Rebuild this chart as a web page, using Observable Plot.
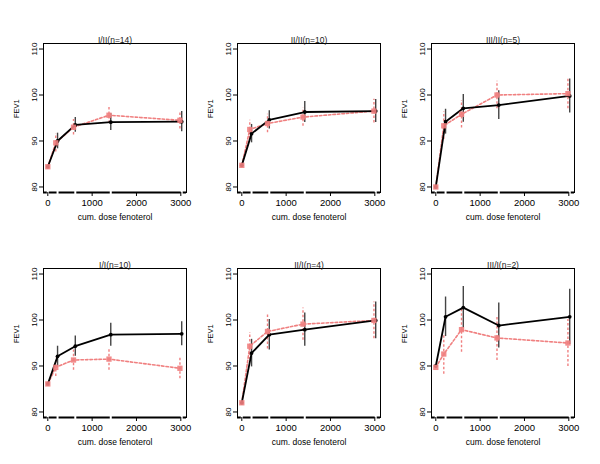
<!DOCTYPE html>
<html><head><meta charset="utf-8">
<script src="https://cdn.jsdelivr.net/npm/d3@7"></script>
<script src="https://cdn.jsdelivr.net/npm/@observablehq/plot@0.6"></script>
<style>
body{margin:0;background:#fff;}
#wrap{position:relative;width:600px;height:464px;background:#fff;font-family:"Liberation Sans",Arial,sans-serif;}
#wrap svg{position:absolute;overflow:visible;}
</style></head>
<body><div id="wrap"></div>
<script>
const titles = ["I/II(n=14)", "II/II(n=10)", "III/II(n=5)", "I/I(n=10)", "II/I(n=4)", "III/I(n=2)"];
const doses = [0, 200, 600, 1400, 3000];
const xTicks = [0, 1000, 2000, 3000];
const yTicks = [80, 90, 100, 110];
// black (solid) series means and error half-widths
const blackMean = [
  [84.4, 90.0, 93.5, 94.1, 94.2],
  [84.7, 91.6, 94.6, 96.3, 96.5],
  [80.0, 94.2, 97.1, 97.8, 99.8],
  [86.1, 92.1, 94.3, 96.8, 97.0],
  [82.0, 92.8, 96.8, 97.9, 99.9],
  [90.0, 100.7, 102.7, 98.8, 100.7]
];
const blackErr = [
  [0, 1.7, 1.6, 1.8, 2.2],
  [0, 2.0, 2.0, 2.3, 2.5],
  [0, 2.7, 3.0, 3.1, 3.7],
  [0, 2.2, 2.2, 2.5, 2.6],
  [0, 3.0, 3.3, 3.6, 4.0],
  [0, 4.3, 4.6, 4.9, 6.0]
];
// red (dashed) series means and error half-widths
const redMean = [
  [84.4, 89.6, 93.0, 95.6, 94.5],
  [84.7, 92.5, 93.8, 95.2, 96.5],
  [80.0, 93.3, 95.8, 100.0, 100.3],
  [86.1, 89.7, 91.3, 91.5, 89.5],
  [82.0, 94.3, 97.5, 99.1, 99.9],
  [89.7, 92.6, 97.9, 96.1, 95.0]
];
const redErr = [
  [0, 2.0, 1.7, 1.8, 1.9],
  [0, 2.0, 2.0, 2.0, 2.6],
  [0, 3.0, 3.0, 3.0, 3.3],
  [0, 2.0, 2.2, 2.4, 2.3],
  [0, 3.0, 3.8, 3.5, 4.0],
  [0, 4.4, 4.9, 4.9, 5.1]
];

const black = "#000", grey = "#444", red = "#f08080";
const shift = 20; // small horizontal dodge between the two series (not at baseline)
const wrap = document.getElementById("wrap");

titles.forEach((t, p) => {
  const col = p % 3, row = Math.floor(p / 3);
  const B = doses.map((d, i) => ({x: d > 0 ? d + shift : d, y: blackMean[p][i], e: blackErr[p][i]}));
  const R = doses.map((d, i) => ({x: d > 0 ? d - shift : d, y: redMean[p][i], e: redErr[p][i]}));
  const chart = Plot.plot({
    width: 194, height: 225,
    marginLeft: 43, marginRight: 8, marginTop: 43, marginBottom: 33,
    style: {fontFamily: '"Liberation Sans", Arial, sans-serif', background: "transparent", color: "#000"},
    x: {domain: [-97, 3128]},
    y: {domain: [78.8, 111.2]},
    marks: [
      Plot.ruleX(B.filter(d => d.e > 0), {x: "x", y1: d => d.y - d.e, y2: d => d.y + d.e, stroke: grey, strokeWidth: 1.4}),
      Plot.ruleX(R.filter(d => d.e > 0), {x: "x", y1: d => d.y - d.e, y2: d => d.y + d.e, stroke: red, strokeWidth: 1.4, strokeDasharray: "2.5,2"}),
      Plot.line(R, {x: "x", y: "y", stroke: red, strokeWidth: 1.6, strokeDasharray: "2.5,2"}),
      Plot.line(B, {x: "x", y: "y", stroke: black, strokeWidth: 1.8}),
      Plot.dot(B, {x: "x", y: "y", r: 1.9, fill: black, stroke: null}),
      Plot.dot(R, {x: "x", y: "y", symbol: "square", r: 3, fill: red, fillOpacity: 0.9, stroke: null}),
      Plot.frame({stroke: "#000", strokeWidth: 1}),
      Plot.ruleY([78.8], {stroke: "#000", strokeWidth: 2}),
      Plot.ruleX(B, {x: "x", y1: 78.8, y2: 78.8, insetTop: -2, insetBottom: -2, stroke: "#fff", strokeWidth: 2}),
      Plot.axisX(xTicks, {tickSize: 4, tickPadding: 3, fontSize: 9.5, tickFormat: d => String(d), label: null}),
      Plot.axisY(yTicks, {tickSize: 4, tickPadding: 3, fontSize: 8, tickRotate: -90, tickFormat: d => String(d), label: null}),
      Plot.text([t], {text: d => d, frameAnchor: "top", dy: -1, lineAnchor: "bottom", fontSize: 8.5, fill: "#222"}),
      Plot.text(["FEV1"], {text: d => d, frameAnchor: "left", dx: -27, rotate: -90, fontSize: 7.5, fill: "#000"}),
      Plot.text(["cum. dose fenoterol"], {text: d => d, frameAnchor: "bottom", dy: 27, fontSize: 8.5, fill: "#000"})
    ]
  });
  chart.style.left = (col * 194) + "px";
  chart.style.top = (row * 225) + "px";
  wrap.appendChild(chart);
});
</script>
</body></html>
